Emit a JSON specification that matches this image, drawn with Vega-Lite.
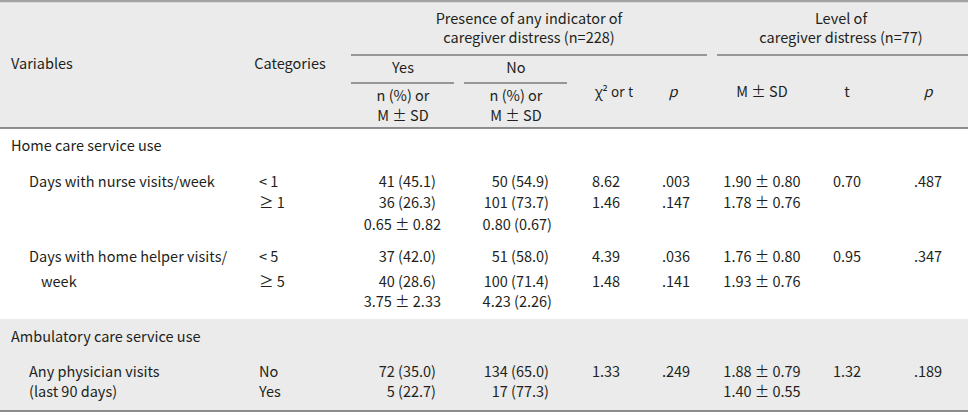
{
  "$schema": "https://vega.github.io/schema/vega-lite/v6.json",
  "width": 968,
  "height": 413,
  "autosize": "none",
  "padding": 0,
  "background": "#ffffff",
  "config": {"view": {"stroke": null}},
  "datasets": {
    "bands": [
      {"x": 0, "x2": 27, "y": 0, "y2": 11},
      {"x": 0, "x2": 27, "y": 19, "y2": 23}
    ],
    "rules": [
      {"x": 0, "x2": 27, "y": 1, "w": "top"},
      {"x": 6, "x2": 21, "y": 4, "w": "sub"},
      {"x": 22, "x2": 27, "y": 4, "w": "sub"},
      {"x": 6, "x2": 10, "y": 7, "w": "sub"},
      {"x": 11, "x2": 16, "y": 7, "w": "sub"},
      {"x": 0, "x2": 27, "y": 11, "w": "main"},
      {"x": 0, "x2": 27, "y": 23, "w": "main"}
    ],
    "cells": [
      {"r": 2, "c": 13, "t": "Presence of any indicator of", "a": "center"},
      {"r": 3, "c": 13, "t": "caregiver distress (n=228)", "a": "center"},
      {"r": 2, "c": 24, "t": "Level of", "a": "center"},
      {"r": 3, "c": 24, "t": "caregiver distress (n=77)", "a": "center"},
      {"r": 5, "c": 1, "t": "Variables", "a": "left"},
      {"r": 5, "c": 5, "t": "Categories", "a": "center"},
      {"r": 6, "c": 7, "t": "Yes", "a": "center"},
      {"r": 6, "c": 12, "t": "No", "a": "center"},
      {"r": 9, "c": 7, "t": "n (%) or", "a": "center"},
      {"r": 10, "c": 7, "t": "M ± SD", "a": "center"},
      {"r": 9, "c": 12, "t": "n (%) or", "a": "center"},
      {"r": 10, "c": 12, "t": "M ± SD", "a": "center"},
      {"r": 8, "c": 18, "t": "χ² or t", "a": "chi"},
      {"r": 8, "c": 19, "t": "p", "a": "italic"},
      {"r": 8, "c": 23, "t": "M ± SD", "a": "center"},
      {"r": 8, "c": 25, "t": "t", "a": "center"},
      {"r": 8, "c": 26, "t": "p", "a": "italic"},

      {"r": 12, "c": 1, "t": "Home care service use", "a": "left"},
      {"r": 13, "c": 2, "t": "Days with nurse visits/week", "a": "left"},
      {"r": 13, "c": 4, "t": "< 1", "a": "left"},
      {"r": 14, "c": 4, "t": "≥ 1", "a": "left"},
      {"r": 13, "c": 8, "t": "41 (45.1)", "a": "right"},
      {"r": 14, "c": 8, "t": "36 (26.3)", "a": "right"},
      {"r": 15, "c": 9, "t": "0.65 ± 0.82", "a": "right"},
      {"r": 13, "c": 14, "t": "50 (54.9)", "a": "right"},
      {"r": 14, "c": 14, "t": "101 (73.7)", "a": "right"},
      {"r": 15, "c": 15, "t": "0.80 (0.67)", "a": "right"},
      {"r": 13, "c": 17, "t": "8.62", "a": "center"},
      {"r": 14, "c": 17, "t": "1.46", "a": "center"},
      {"r": 13, "c": 20, "t": ".003", "a": "center"},
      {"r": 14, "c": 20, "t": ".147", "a": "center"},
      {"r": 13, "c": 23, "t": "1.90 ± 0.80", "a": "center"},
      {"r": 14, "c": 23, "t": "1.78 ± 0.76", "a": "center"},
      {"r": 13, "c": 25, "t": "0.70", "a": "center"},
      {"r": 13, "c": 26, "t": ".487", "a": "center"},

      {"r": 16, "c": 2, "t": "Days with home helper visits/", "a": "left"},
      {"r": 17, "c": 3, "t": "week", "a": "left"},
      {"r": 16, "c": 4, "t": "< 5", "a": "left"},
      {"r": 17, "c": 4, "t": "≥ 5", "a": "left"},
      {"r": 16, "c": 8, "t": "37 (42.0)", "a": "right"},
      {"r": 17, "c": 8, "t": "40 (28.6)", "a": "right"},
      {"r": 18, "c": 9, "t": "3.75 ± 2.33", "a": "right"},
      {"r": 16, "c": 14, "t": "51 (58.0)", "a": "right"},
      {"r": 17, "c": 14, "t": "100 (71.4)", "a": "right"},
      {"r": 18, "c": 15, "t": "4.23 (2.26)", "a": "right"},
      {"r": 16, "c": 17, "t": "4.39", "a": "center"},
      {"r": 17, "c": 17, "t": "1.48", "a": "center"},
      {"r": 16, "c": 20, "t": ".036", "a": "center"},
      {"r": 17, "c": 20, "t": ".141", "a": "center"},
      {"r": 16, "c": 23, "t": "1.76 ± 0.80", "a": "center"},
      {"r": 17, "c": 23, "t": "1.93 ± 0.76", "a": "center"},
      {"r": 16, "c": 25, "t": "0.95", "a": "center"},
      {"r": 16, "c": 26, "t": ".347", "a": "center"},

      {"r": 20, "c": 1, "t": "Ambulatory care service use", "a": "left"},
      {"r": 21, "c": 2, "t": "Any physician visits", "a": "left"},
      {"r": 22, "c": 2, "t": "(last 90 days)", "a": "left"},
      {"r": 21, "c": 4, "t": "No", "a": "left"},
      {"r": 22, "c": 4, "t": "Yes", "a": "left"},
      {"r": 21, "c": 8, "t": "72 (35.0)", "a": "right"},
      {"r": 22, "c": 8, "t": "5 (22.7)", "a": "right"},
      {"r": 21, "c": 14, "t": "134 (65.0)", "a": "right"},
      {"r": 22, "c": 14, "t": "17 (77.3)", "a": "right"},
      {"r": 21, "c": 17, "t": "1.33", "a": "center"},
      {"r": 21, "c": 20, "t": ".249", "a": "center"},
      {"r": 21, "c": 23, "t": "1.88 ± 0.79", "a": "center"},
      {"r": 22, "c": 23, "t": "1.40 ± 0.55", "a": "center"},
      {"r": 21, "c": 25, "t": "1.32", "a": "center"},
      {"r": 21, "c": 26, "t": ".189", "a": "center"}
    ]
  },
  "resolve": {"scale": {"x": "shared", "y": "shared"}},
  "encoding": {
    "x": {"field": "x", "type": "quantitative", "axis": null,
      "scale": {"nice": false, "zero": false,
        "domain": [0,1,2,3,4,5,6,7,8,9,10,11,12,13,14,15,16,17,18,19,20,21,22,23,24,25,26,27],
        "range": [0,11,29,41,259,290,351,403,436,441,454,464,516,529,549,552,567,606,614,673,676,707,717,762,841,847,928,968]}},
    "y": {"field": "y", "type": "quantitative", "axis": null,
      "scale": {"nice": false, "zero": false,
        "domain": [0,1,2,3,4,5,6,7,8,9,10,11,12,13,14,15,16,17,18,19,20,21,22,23,24],
        "range": [0,1,20,39,55,65,69,83,93,97,117,128,147,183,204,226,258,283,303,319,338,373,393,411,413]}}
  },
  "layer": [
    {
      "data": {"name": "bands"},
      "mark": {"type": "rect", "color": "#ebebeb"},
      "encoding": {"x2": {"field": "x2"}, "y2": {"field": "y2"}}
    },
    {
      "data": {"name": "rules"},
      "transform": [{"filter": "datum.w === 'top'"}],
      "mark": {"type": "rule", "color": "#a3a3a3", "strokeWidth": 2.5},
      "encoding": {"x2": {"field": "x2"}}
    },
    {
      "data": {"name": "rules"},
      "transform": [{"filter": "datum.w === 'sub'"}],
      "mark": {"type": "rule", "color": "#7a7a7a", "strokeWidth": 1.3},
      "encoding": {"x2": {"field": "x2"}}
    },
    {
      "data": {"name": "rules"},
      "transform": [{"filter": "datum.w === 'main'"}],
      "mark": {"type": "rule", "color": "#6a6a6a", "strokeWidth": 1.5},
      "encoding": {"x2": {"field": "x2"}}
    },
    {
      "data": {"name": "cells"},
      "transform": [{"filter": "datum.a === 'left'"}],
      "mark": {"type": "text", "align": "left", "baseline": "middle", "font": "Noto Sans CJK KR", "fontSize": 14.5, "color": "#231f20"},
      "encoding": {"x": {"field": "c", "type": "quantitative"}, "y": {"field": "r", "type": "quantitative"}, "text": {"field": "t"}}
    },
    {
      "data": {"name": "cells"},
      "transform": [{"filter": "datum.a === 'center'"}],
      "mark": {"type": "text", "align": "center", "baseline": "middle", "font": "Noto Sans CJK KR", "fontSize": 14.5, "color": "#231f20"},
      "encoding": {"x": {"field": "c", "type": "quantitative"}, "y": {"field": "r", "type": "quantitative"}, "text": {"field": "t"}}
    },
    {
      "data": {"name": "cells"},
      "transform": [{"filter": "datum.a === 'right'"}],
      "mark": {"type": "text", "align": "right", "baseline": "middle", "font": "Noto Sans CJK KR", "fontSize": 14.5, "color": "#231f20"},
      "encoding": {"x": {"field": "c", "type": "quantitative"}, "y": {"field": "r", "type": "quantitative"}, "text": {"field": "t"}}
    },
    {
      "data": {"name": "cells"},
      "transform": [{"filter": "datum.a === 'chi'"}],
      "mark": {"type": "text", "align": "center", "baseline": "middle", "font": "Noto Sans", "fontSize": 13.5, "color": "#231f20"},
      "encoding": {"x": {"field": "c", "type": "quantitative"}, "y": {"field": "r", "type": "quantitative"}, "text": {"field": "t"}}
    },
    {
      "data": {"name": "cells"},
      "transform": [{"filter": "datum.a === 'italic'"}],
      "mark": {"type": "text", "align": "center", "baseline": "middle", "font": "Noto Sans CJK KR", "fontStyle": "italic", "fontSize": 14.5, "color": "#231f20"},
      "encoding": {"x": {"field": "c", "type": "quantitative"}, "y": {"field": "r", "type": "quantitative"}, "text": {"field": "t"}}
    }
  ]
}
